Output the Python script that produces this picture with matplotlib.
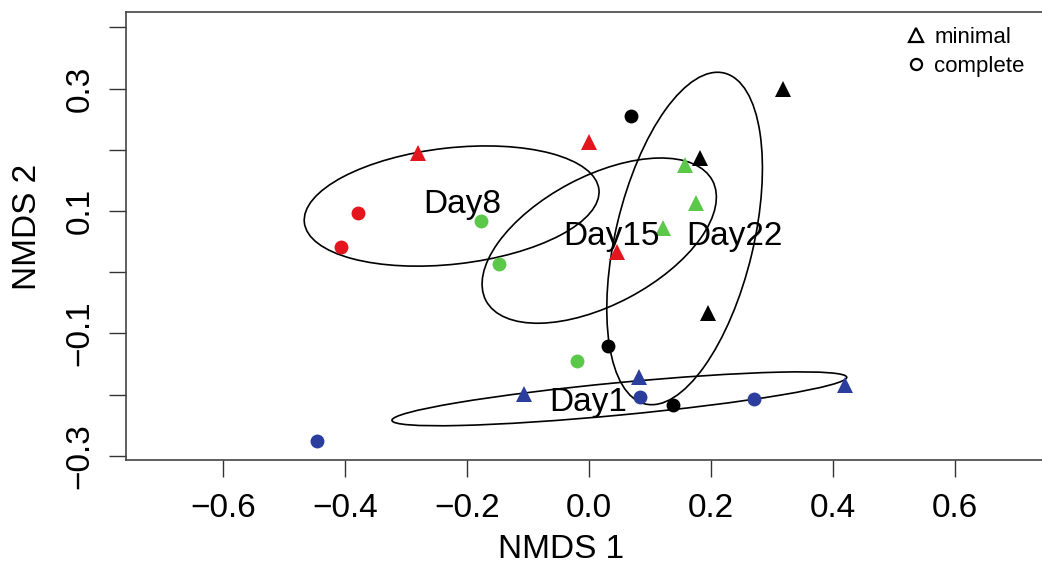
import numpy as np
import matplotlib
matplotlib.use("Agg")
from matplotlib import pyplot as plt
from matplotlib.patches import Ellipse
from matplotlib.lines import Line2D

plt.rcParams['font.family'] = ['Liberation Sans', 'DejaVu Sans']

# sampling days and their colours
days = ["Day1", "Day8", "Day15", "Day22"]
day_colors = ["#2B3E9E", "#E3161E", "#5CC84A", "#000000"]

# NMDS scores, per day, split by medium (minimal = triangle, complete = circle)
min_x = {"Day1": [-0.107, 0.082, 0.420],
         "Day8": [-0.280, 0.000, 0.046],
         "Day15": [0.157, 0.175, 0.121],
         "Day22": [0.318, 0.182, 0.195]}
min_y = {"Day1": [-0.199, -0.171, -0.184],
         "Day8": [0.194, 0.212, 0.033],
         "Day15": [0.175, 0.113, 0.072],
         "Day22": [0.299, 0.186, -0.067]}
comp_x = {"Day1": [-0.446, 0.084, 0.270],
          "Day8": [-0.379, -0.407],
          "Day15": [-0.177, -0.148, -0.020],
          "Day22": [0.069, 0.031, 0.138]}
comp_y = {"Day1": [-0.276, -0.204, -0.208],
          "Day8": [0.096, 0.041],
          "Day15": [0.083, 0.013, -0.145],
          "Day22": [0.255, -0.121, -0.217]}

# ordination ellipses: centre, full axis lengths, rotation (deg)
ell_cx = [0.050, -0.225, 0.017, 0.157]
ell_cy = [-0.207, 0.108, 0.0515, 0.055]
ell_w = [0.749, 0.486, 0.420, 0.556]
ell_h = [0.053, 0.190, 0.210, 0.226]
ell_ang = [5.4, 6.4, 27.8, 76.5]

# group labels (text baseline)
lab_x = [-0.001, -0.208, 0.037, 0.239]
lab_y = [-0.227, 0.096, 0.044, 0.044]

fig = plt.figure(figsize=(10.42, 5.68), dpi=100)
ax = fig.add_axes([0.1209, 0.1901, 0.906, 0.7887])

for i, d in enumerate(days):
    e = Ellipse((ell_cx[i], ell_cy[i]), ell_w[i], ell_h[i], angle=ell_ang[i],
                fill=False, edgecolor="black", linewidth=1.2, zorder=2)
    ax.add_patch(e)

for i, d in enumerate(days):
    ax.plot(min_x[d], min_y[d], linestyle="none", marker="^", markersize=11,
            color=day_colors[i], markeredgewidth=0, zorder=3)
    ax.plot(comp_x[d], comp_y[d], linestyle="none", marker="o", markersize=10,
            color=day_colors[i], markeredgewidth=0, zorder=3)

for i, d in enumerate(days):
    ax.text(lab_x[i], lab_y[i], d, ha="center", va="baseline", fontsize=24, zorder=4)

ax.set_xlim(-0.759, 0.789)
ax.set_ylim(-0.307, 0.425)

ax.set_xticks([-0.6, -0.4, -0.2, 0.0, 0.2, 0.4, 0.6])
ax.set_xticklabels(["\u22120.6", "\u22120.4", "\u22120.2", "0.0", "0.2", "0.4", "0.6"])
yt = [-0.3, -0.2, -0.1, 0.0, 0.1, 0.2, 0.3, 0.4]
ax.set_yticks(yt)
ax.set_yticklabels(["\u22120.3", "", "\u22120.1", "", "0.1", "", "0.3", ""],
                   rotation=90, va="center")
ax.tick_params(axis="both", direction="out", length=12, width=1.0,
               labelsize=24, color="#333333")
ax.tick_params(axis="x", pad=12)
ax.tick_params(axis="y", pad=10)

for s in ["left", "bottom", "top", "right"]:
    ax.spines[s].set_linewidth(1.2)
    ax.spines[s].set_color("#444444")

ax.set_xlabel("NMDS 1", fontsize=24)
ax.xaxis.set_label_coords(0.461, -0.165)
ax.set_ylabel("NMDS 2", fontsize=24)
ax.yaxis.set_label_coords(-0.088, 0.52)

handles = [Line2D([], [], linestyle="none", marker="^", markersize=10,
                  markerfacecolor="none", markeredgecolor="black", markeredgewidth=1.6),
           Line2D([], [], linestyle="none", marker="o", markersize=8,
                  markerfacecolor="none", markeredgecolor="black", markeredgewidth=1.6)]
fig.legend(handles, ["minimal", "complete"], loc="upper left",
           bbox_to_anchor=(0.871, 0.952), frameon=False, fontsize=16,
           handlelength=0.8, handletextpad=0.4, labelspacing=0.35,
           borderaxespad=0, borderpad=0)

fig.savefig("out.png", dpi=100)
plt.close(fig)
